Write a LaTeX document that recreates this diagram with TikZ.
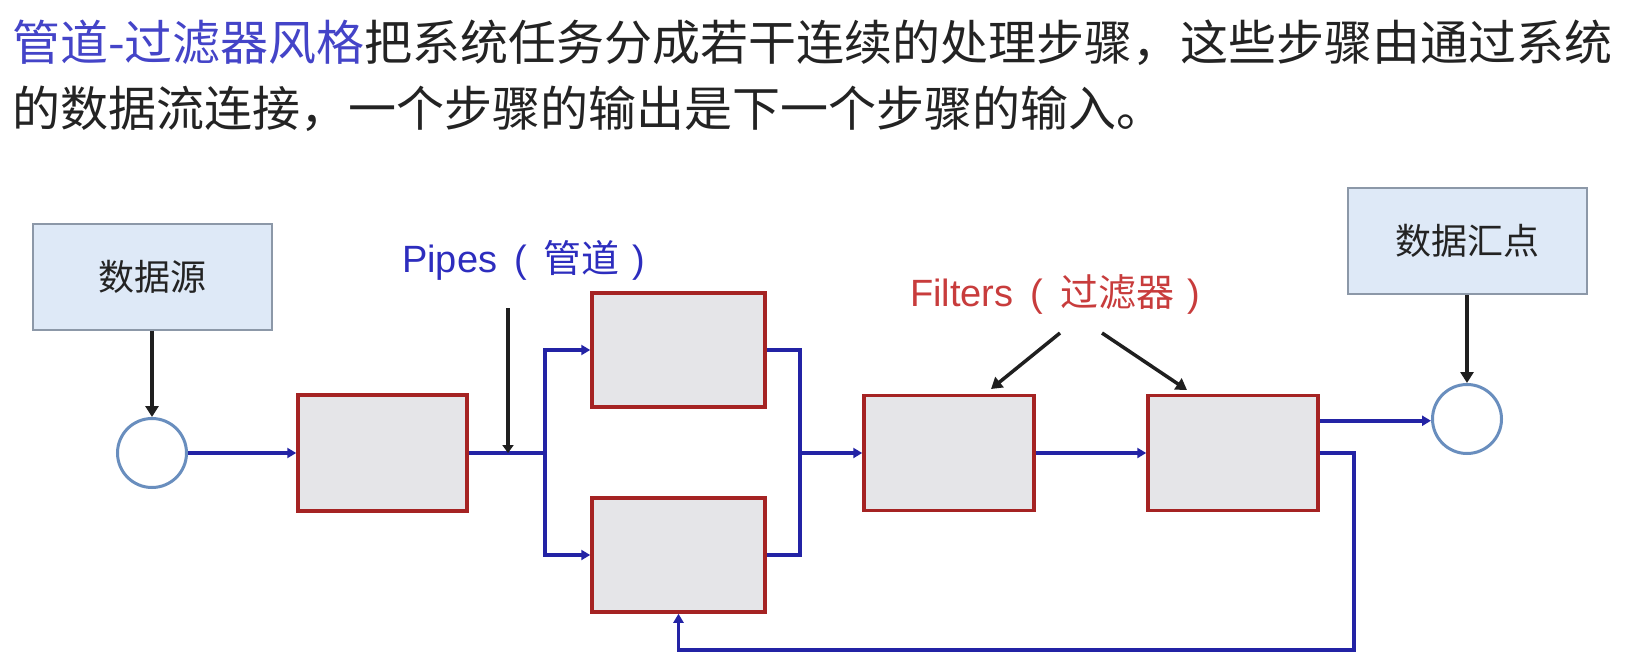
\documentclass[tikz,border=0pt]{standalone}
\usepackage{fontspec}
\setmainfont{Liberation Sans}
\newfontfamily\cjk{Noto Sans CJK SC}
\usetikzlibrary{arrows.meta,calc}
\definecolor{titleblue}{RGB}{68,68,200}
\definecolor{titletext}{RGB}{35,35,35}
\definecolor{pipeblue}{RGB}{35,35,165}
\definecolor{labelblue}{RGB}{45,45,190}
\definecolor{labelred}{RGB}{200,60,60}
\definecolor{filterborder}{RGB}{165,35,35}
\definecolor{filterfill}{RGB}{229,229,232}
\definecolor{endfill}{RGB}{222,233,247}
\definecolor{endborder}{RGB}{140,152,168}
\definecolor{circborder}{RGB}{105,142,190}
\tikzset{
  titlestyle/.style={anchor=base west, inner sep=0pt, font=\cjk\fontsize{48}{56}\selectfont, text=titletext},
  filterbox/.style={draw=filterborder, fill=filterfill, line width=3.5pt, inner sep=0pt},
  endbox/.style={draw=endborder, fill=endfill, line width=2pt, inner sep=0pt, minimum width=239pt, minimum height=106pt, font=\cjk\fontsize{36}{40}\selectfont, text=titletext},
  endcirc/.style={circle, draw=circborder, fill=white, line width=3pt, minimum size=69pt, inner sep=0pt},
  pipeline/.style={draw=pipeblue, line width=3.6pt},
  pipearrow/.style={pipeline, -{Triangle[length=9pt,width=10pt]}},
  blkarrow/.style={draw=black!88, line width=3.5pt, -{Triangle[length=11pt,width=13pt]}},
  lbl/.style={anchor=base west, inner sep=0pt, font=\fontsize{38}{44}\selectfont}
}
\newcommand{\paren}[2]{#1\hspace{17pt}(\hspace{17pt}{\cjk #2}\hspace{13pt})}
\begin{document}
\begin{tikzpicture}[x=1pt,y=-1pt]
\useasboundingbox[fill=white] (0,0) rectangle (1627,663);

% title
\node[titlestyle] (t1) at (12,61) {\textcolor{titleblue}{管道-过滤器风格}把系统任务分成若干连续的处理步骤，这些步骤由通过系统};
\node[titlestyle] (t2) at (12,127) {的数据流连接，一个步骤的输出是下一个步骤的输入。};

% ends
\node[endbox] (srcbox) at (152,276.5) {数据源};
\node[endcirc] (srccirc) at (152,453) {};
\node[endbox] (sinkbox) at (1467,241) {数据汇点};
\node[endcirc] (sinkcirc) at (1467,419) {};

% filters
\node[filterbox, minimum width=169pt, minimum height=116pt] (f1) at (382.5,453) {};
\node[filterbox, minimum width=173pt, minimum height=114pt] (fu) at (678.5,350) {};
\node[filterbox, minimum width=173pt, minimum height=114pt] (fl) at (678.5,555) {};
\node[filterbox, minimum width=170pt, minimum height=115pt] (f3) at (949,453) {};
\node[filterbox, minimum width=170pt, minimum height=115pt] (f4) at (1233,453) {};

% labels
\node[lbl, text=labelblue] (pipes) at (402,272) {\paren{Pipes}{管道}};
\node[lbl, text=labelred] (filters) at (910,306) {\paren{Filters}{过滤器}};

% coordinates
\coordinate (split) at (545,453);
\coordinate (merge) at (800,453);
\coordinate (fb) at (1354,650);
\coordinate (f4out) at ($(f4.north east)+(0,27)$);
\coordinate (pipetail) at (508,308);
\coordinate (pipetip) at (508,453);
\coordinate (ftailA) at (1060,333);
\coordinate (fheadA) at (991,389);
\coordinate (ftailB) at (1102,333);
\coordinate (fheadB) at (1187,390);

% pipes
\draw[pipearrow] (srccirc.east) -- (f1.west);
\draw[pipeline] (f1.east) -- (split);
\draw[pipearrow] (split) |- (fu.west);
\draw[pipearrow] (split) |- (fl.west);
\draw[pipeline] (fu.east) -| (merge) |- (fl.east);
\draw[pipearrow] (merge) -- (f3.west);
\draw[pipearrow] (f3.east) -- (f4.west);
\draw[pipearrow] (f4out) -- (f4out -| sinkcirc.west);
\draw[pipearrow] (f4.east) -| (fb) -| (fl.south);

% black arrows
\draw[blkarrow] (srcbox.south) -- (srccirc.north);
\draw[blkarrow] (sinkbox.south) -- (sinkcirc.north);
\draw[blkarrow, -{Triangle[length=8pt,width=11pt]}] (pipetail) -- (pipetip);
\draw[blkarrow] (ftailA) -- (fheadA);
\draw[blkarrow] (ftailB) -- (fheadB);
\end{tikzpicture}
\end{document}
